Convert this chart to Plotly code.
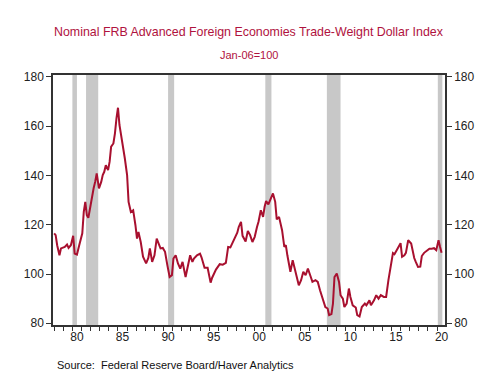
import plotly.graph_objects as go

dates = [
    "1978-01", "1978-03", "1978-05", "1978-08", "1978-10", "1979-03", "1979-06", "1979-08", "1979-11",
    "1980-02", "1980-04", "1980-07", "1980-10", "1981-02", "1981-04", "1981-06", "1981-08", "1981-10",
    "1982-01", "1982-03", "1982-05", "1982-07", "1982-09", "1982-12", "1983-03", "1983-05", "1983-07",
    "1983-09", "1983-12", "1984-02", "1984-04", "1984-07", "1984-09", "1984-11", "1985-01", "1985-03",
    "1985-05", "1985-07", "1985-10", "1986-01", "1986-03", "1986-06", "1986-09", "1986-12", "1987-02",
    "1987-04", "1987-07", "1987-10", "1988-02", "1988-05", "1988-07", "1988-10", "1989-01", "1989-04",
    "1989-06", "1989-09", "1989-12", "1990-03", "1990-06", "1990-09", "1990-12", "1991-02", "1991-05",
    "1991-08", "1991-11", "1992-02", "1992-06", "1992-09", "1992-12", "1993-03", "1993-05", "1993-09",
    "1994-01", "1994-03", "1994-07", "1994-11", "1995-03", "1995-05", "1995-10", "1996-03", "1996-07",
    "1996-11", "1997-02", "1997-05", "1997-08", "1997-11", "1998-02", "1998-04", "1998-07", "1998-09",
    "1999-01", "1999-04", "1999-07", "1999-10", "2000-01", "2000-04", "2000-06", "2000-09", "2000-12",
    "2001-02", "2001-04", "2001-07", "2001-10", "2002-01", "2002-04", "2002-06", "2002-09", "2003-01",
    "2003-04", "2003-06", "2003-08", "2003-12", "2004-03", "2004-07", "2004-11", "2005-02", "2005-05",
    "2005-08", "2005-11", "2006-02", "2006-05", "2006-09", "2006-12", "2007-03", "2007-06", "2007-10",
    "2008-01", "2008-03", "2008-06", "2008-08", "2008-10", "2009-01", "2009-04", "2009-06", "2009-09",
    "2009-11", "2010-02", "2010-05", "2010-07", "2010-10", "2011-02", "2011-04", "2011-07", "2011-10",
    "2012-02", "2012-04", "2012-08", "2012-10", "2013-02", "2013-05", "2013-08", "2013-11", "2014-03",
    "2014-06", "2014-09", "2015-01", "2015-03", "2015-05", "2015-08", "2015-11", "2016-01", "2016-03",
    "2016-06", "2016-08", "2016-11", "2017-03", "2017-05", "2017-07", "2017-09", "2017-12", "2018-03",
    "2018-05", "2018-08", "2019-01", "2019-03", "2019-06", "2019-09", "2019-12", "2020-03", "2020-05",
    "2020-07",
]
index_values = [
    116.5, 115.8, 111.7, 107.6, 110.4, 111.0, 112.0, 110.6, 111.7,
    115.5, 108.3, 107.9, 111.7, 116.5, 125.2, 129.3, 123.9, 122.8,
    128.0, 132.0, 134.8, 137.4, 140.8, 134.8, 137.4, 140.2, 141.5,
    144.2, 142.2, 145.6, 151.7, 153.0, 157.1, 163.2, 167.5, 160.5,
    157.1, 153.5, 147.0, 140.2, 129.3, 125.2, 125.9, 119.8, 114.4,
    117.1, 113.0, 107.0, 104.3, 106.5, 110.4, 104.9, 107.6, 114.4,
    113.0, 110.4, 110.6, 109.0, 103.6, 98.8, 99.5, 106.3, 107.6,
    104.3, 102.2, 104.9, 98.8, 103.6, 107.6, 104.9, 106.3, 107.6,
    108.3, 106.8, 102.5, 102.5, 96.5, 98.5, 101.8, 104.0, 103.8,
    104.5, 111.0, 110.8, 112.8, 115.5, 116.8, 119.1, 121.2, 115.5,
    113.2, 117.5, 115.8, 113.0, 115.1, 119.1, 121.2, 125.9, 123.2,
    127.3, 129.6, 128.3, 130.7, 132.7, 129.3, 122.2, 123.2, 117.8,
    111.0, 111.7, 107.6, 100.9, 105.6, 100.9, 95.4, 97.5, 100.9,
    99.5, 102.2, 99.5, 96.8, 97.5, 96.8, 93.4, 90.7, 86.6,
    86.0, 83.3, 83.7, 88.0, 98.8, 100.2, 96.8, 91.4, 90.0,
    86.6, 88.0, 94.1, 90.7, 87.3, 86.4, 83.3, 82.8, 86.6,
    88.0, 87.3, 89.3, 87.3, 89.3, 91.4, 90.0, 91.4, 90.7,
    90.7, 97.5, 105.5, 108.5, 108.0, 109.5, 111.5, 112.5, 107.0,
    107.6, 108.6, 113.7, 112.4, 108.5, 106.5, 104.9, 102.9, 103.0,
    107.3, 108.6, 109.7, 110.3, 110.3, 110.5, 109.7, 113.7, 111.0,
    108.6,
]

recession_starts = ["1980-01-01", "1981-07-01", "1990-07-01", "2001-03-01", "2007-12-01", "2020-02-01"]
recession_ends = ["1980-07-01", "1982-11-01", "1991-03-01", "2001-11-01", "2009-06-01", "2020-08-01"]

label_years = [1980, 1985, 1990, 1995, 2000, 2005, 2010, 2015, 2020]
tick_labels = ["80", "85", "90", "95", "00", "05", "10", "15", "20"]
y_ticks = [80, 100, 120, 140, 160, 180]

LINE = "#A8102F"
TITLE = "#B0123E"
FONT = "Liberation Sans, Arial, sans-serif"

fig = go.Figure()
fig.add_trace(go.Scatter(x=dates, y=index_values, mode="lines",
                         line=dict(color=LINE, width=2), showlegend=False, hoverinfo="skip"))
fig.add_trace(go.Scatter(x=[dates[0]], y=[index_values[0]], yaxis="y2", mode="markers",
                         marker=dict(opacity=0), showlegend=False, hoverinfo="skip"))

for s, e in zip(recession_starts, recession_ends):
    fig.add_shape(type="rect", xref="x", yref="paper", x0=s, x1=e, y0=0, y1=1,
                  fillcolor="#C8C8C8", line=dict(width=0), layer="below")

yrange = [79.3, 180.8]
# page body has an 8px margin, so the figure is sized to fit the 499x374 window
fig.update_layout(
    width=491, height=366,
    margin=dict(l=45, r=54, t=67, b=49),
    paper_bgcolor="white", plot_bgcolor="white",
    font=dict(family=FONT, size=12, color="#222"),
    xaxis=dict(
        type="date", range=["1977-11-15", "2020-11-15"],
        tickvals=[f"{y}-07-01" for y in label_years], ticktext=tick_labels,
        ticks="", showgrid=False, zeroline=False,
        showline=True, linecolor="#333", linewidth=1.5, mirror=True,
        tickfont=dict(size=12, color="#222"),
        minor=dict(tickvals=[f"{y}-01-01" for y in range(1978, 2021)],
                   ticks="outside", ticklen=4, tickcolor="#333", tickwidth=1),
    ),
    yaxis=dict(
        range=yrange, tickvals=y_ticks, ticks="outside", ticklen=5, tickcolor="#333",
        showgrid=False, zeroline=False, showline=True, linecolor="#333", linewidth=1.5,
        tickfont=dict(size=12, color="#222"),
    ),
    yaxis2=dict(
        range=yrange, tickvals=y_ticks, overlaying="y", side="right", ticks="outside",
        ticklen=5, tickcolor="#333", showgrid=False, zeroline=False, showline=True,
        linecolor="#333", linewidth=1.5, tickfont=dict(size=12, color="#222"),
    ),
    annotations=[
        dict(text="Nominal FRB Advanced Foreign Economies Trade-Weight Dollar Index",
             xref="paper", yref="paper", x=0.5, y=1.172, xanchor="center", yanchor="middle",
             showarrow=False, font=dict(size=12.4, color=TITLE, family=FONT)),
        dict(text="Jan-06=100", xref="paper", yref="paper", x=0.5, y=1.08,
             xanchor="center", yanchor="middle", showarrow=False,
             font=dict(size=11, color=TITLE, family=FONT)),
        dict(text="Source:  Federal Reserve Board/Haver Analytics", xref="paper", yref="paper",
             x=0.005, y=-0.16, xanchor="left", yanchor="middle", showarrow=False,
             font=dict(size=11, color="#111", family=FONT)),
    ],
)

fig.write_html("out.html")
